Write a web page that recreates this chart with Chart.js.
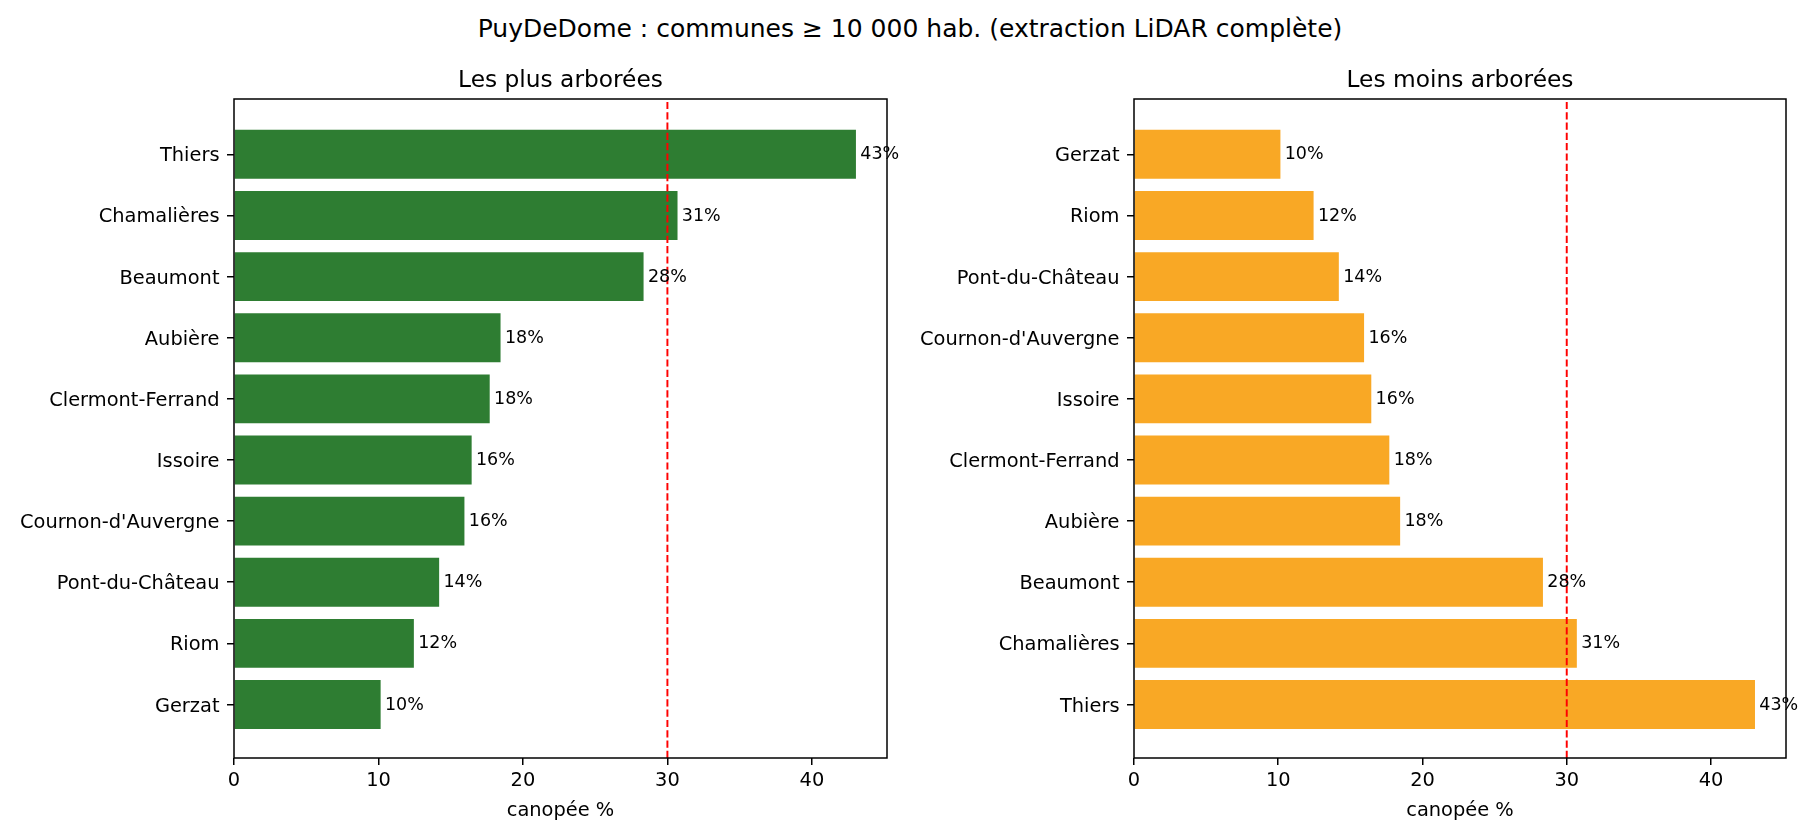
<!DOCTYPE html>
<html lang="fr">
<head>
<meta charset="UTF-8">
<title>PuyDeDome : canopée des communes</title>
<script src="https://cdn.jsdelivr.net/npm/chart.js@4.4.1/dist/chart.umd.min.js"></script>
<style>
    body { margin: 0; background: #fff; width: 1820px; height: 840px; position: relative; overflow: hidden; font-family: "DejaVu Sans"; }
    #suptitle { position: absolute; top: 15.5px; left: 0; width: 1820px; text-align: center; font-size: 25px; line-height: 25px; color: #000; }
    canvas { position: absolute; top: 0; }
</style>
</head>
<body>
<div id="suptitle">PuyDeDome : communes ≥ 10 000 hab. (extraction LiDAR complète)</div>
<canvas id="plusChart" width="910" height="840" style="left: 0;"></canvas>
<canvas id="moinsChart" width="910" height="840" style="left: 910px;"></canvas>

<script>
    // communes triées de la plus arborée à la moins arborée
    const communes = ['Thiers', 'Chamalières', 'Beaumont', 'Aubière', 'Clermont-Ferrand', 'Issoire',
        "Cournon-d'Auvergne", 'Pont-du-Château', 'Riom', 'Gerzat'];
    const canopee = [43.05, 30.7, 28.35, 18.45, 17.7, 16.45, 15.95, 14.2, 12.45, 10.15];
    const xTicks = [0, 10, 20, 30, 40];
    const xMax = 45.2;
    const seuil = 30;

    Chart.defaults.font.family = '"DejaVu Sans"';
    Chart.defaults.color = '#000';

    const seuilPlugin = {
        id: 'seuil',
        afterDatasetsDraw(chart) {
            const { ctx, chartArea, scales: { x } } = chart;
            const px = x.getPixelForValue(seuil);
            ctx.save();
            ctx.strokeStyle = 'red';
            ctx.lineWidth = 1.94;
            ctx.setLineDash([7.2, 3.1]);
            ctx.beginPath();
            ctx.moveTo(px, chartArea.bottom);
            ctx.lineTo(px, chartArea.top);
            ctx.stroke();
            ctx.restore();
        }
    };

    const etiquettes = {
        id: 'etiquettes',
        afterDatasetsDraw(chart) {
            const { ctx, scales: { x } } = chart;
            const meta = chart.getDatasetMeta(0);
            const points = chart.data.datasets[0].data;
            ctx.save();
            ctx.font = '17.5px "DejaVu Sans"';
            ctx.fillStyle = '#000';
            ctx.textAlign = 'left';
            ctx.textBaseline = 'middle';
            meta.data.forEach((bar, i) => {
                const v = points[i].x;
                ctx.fillText(Math.round(v) + '%', x.getPixelForValue(v + 0.3), bar.y + 0.5);
            });
            ctx.restore();
        }
    };

    const cadre = {
        id: 'cadre',
        afterDraw(chart, args, opts) {
            const { ctx, chartArea: a } = chart;
            ctx.save();
            ctx.strokeStyle = '#000';
            ctx.lineWidth = 1.5;
            ctx.strokeRect(a.left, a.top, a.right - a.left, a.bottom - a.top);
            ctx.font = '23.3px "DejaVu Sans"';
            ctx.fillStyle = '#000';
            ctx.textAlign = 'center';
            ctx.textBaseline = 'alphabetic';
            ctx.fillText(opts.titre, (a.left + a.right) / 2, 87.3);
            ctx.restore();
        }
    };

    function makeChart(id, titre, couleur, noms, valeurs, yWidth, padRight) {
        const border = { display: false };
        return new Chart(document.getElementById(id), {
            type: 'bar',
            data: {
                datasets: [{
                    data: valeurs.map((v, j) => ({ x: v, y: j })),
                    backgroundColor: couleur,
                    borderWidth: 0,
                    categoryPercentage: 1,
                    barPercentage: 0.8
                }]
            },
            options: {
                indexAxis: 'y',
                responsive: false,
                animation: false,
                devicePixelRatio: 1,
                events: [],
                layout: { padding: { top: 99, right: padRight, left: 0, bottom: 0 } },
                plugins: {
                    legend: { display: false },
                    tooltip: { enabled: false },
                    cadre: { titre: titre }
                },
                scales: {
                    x: {
                        type: 'linear',
                        bounds: 'data',
                        offset: false,
                        min: 0,
                        max: xMax,
                        afterBuildTicks: s => { s.ticks = xTicks.map(v => ({ value: v })); },
                        afterFit: s => { s.height = 82; },
                        ticks: { padding: 4, font: { size: 19.4 }, color: '#000', callback: v => v },
                        title: { display: true, text: 'canopée %', font: { size: 19.4 }, color: '#000', padding: { top: 0, bottom: 17.5 } },
                        grid: { offset: false, drawOnChartArea: false, drawTicks: true, tickLength: 7, color: '#000', lineWidth: 1.5 },
                        border
                    },
                    y: {
                        type: 'linear',
                        bounds: 'data',
                        offset: false,
                        min: -0.875,
                        max: 9.905,
                        afterBuildTicks: s => { s.ticks = noms.map((n, j) => ({ value: j })); },
                        afterFit: s => { s.width = yWidth; },
                        ticks: { padding: 7.5, labelOffset: 2, font: { size: 19.4 }, color: '#000', callback: v => noms[v] },
                        grid: { offset: false, drawOnChartArea: false, drawTicks: true, tickLength: 7, color: '#000', lineWidth: 1.5 },
                        border
                    }
                }
            },
            plugins: [seuilPlugin, etiquettes, cadre]
        });
    }

    // gauche : la plus arborée en haut ; droite : la moins arborée en haut
    makeChart('plusChart', 'Les plus arborées', '#2e7d32',
        communes.slice().reverse(), canopee.slice().reverse(), 234, 23);
    makeChart('moinsChart', 'Les moins arborées', '#f9a825',
        communes, canopee, 224, 34);
</script>
</body>
</html>
